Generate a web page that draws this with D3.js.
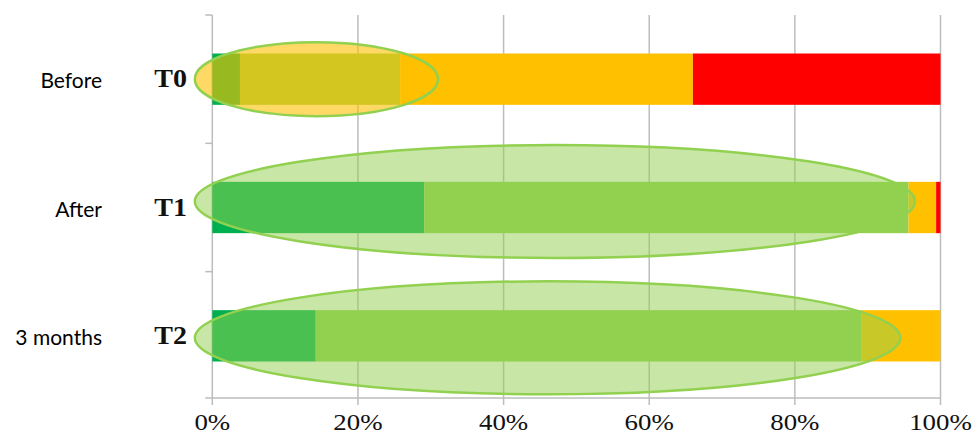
<!DOCTYPE html>
<html>
<head>
<meta charset="utf-8">
<script src="https://cdn.jsdelivr.net/npm/d3@7"></script>
<style>
  html, body { margin: 0; padding: 0; background: #fff; }
  svg { display: block; }
</style>
</head>
<body>
<svg id="chart" width="978" height="437"></svg>
<script>
// Time points and their plain-language names
const timepoints = ["T0", "T1", "T2"];
const phaseNames = ["Before", "After", "3 months"];

// Share of each response level (percent), one array per level
const levelDarkGreen  = [3.8, 29.1, 14.2];
const levelLightGreen = [22.0, 66.5, 74.9];
const levelYellow     = [40.2, 3.8, 10.9];
const levelRed        = [34.0, 0.6, 0.0];

const levelKeys   = ["darkGreen", "lightGreen", "yellow", "red"];
const levelColors = ["#00B050", "#92D050", "#FFC000", "#FF0000"];

// Highlight ovals: horizontal extent in percent, one entry per time point
const ovalStart = [-2.4, -2.4, -2.4];
const ovalEnd   = [31.0, 96.5, 94.5];
const ovalTint  = ["#FFC000", "#92D050", "#92D050"];

const xTicks = [0, 20, 40, 60, 80, 100];

const rows = timepoints.map((t, i) => ({
  t,
  darkGreen: levelDarkGreen[i],
  lightGreen: levelLightGreen[i],
  yellow: levelYellow[i],
  red: levelRed[i]
}));

const svg = d3.select("#chart");

const x = d3.scaleLinear().domain([0, 100]).range([212.3, 940.5]);
const y = d3.scaleBand().domain(timepoints).range([15, 400])
  .paddingInner(0.6).paddingOuter(0.3);
const axisY = 398;
const gridColor = "#BDBDBD";

// Vertical gridlines (including the 0% axis line)
svg.append("g")
  .selectAll("line")
  .data(xTicks)
  .join("line")
  .attr("x1", d => x(d)).attr("x2", d => x(d))
  .attr("y1", 15).attr("y2", axisY + 7)
  .attr("stroke", gridColor).attr("stroke-width", 1.5);

// Bottom axis line
svg.append("line")
  .attr("x1", x(0) - 7).attr("x2", x(100))
  .attr("y1", axisY).attr("y2", axisY)
  .attr("stroke", gridColor).attr("stroke-width", 1.5);

// Left-side category ticks at band boundaries
const bandEdges = timepoints.map((t, i) => 15 + i * y.step());
svg.append("g")
  .selectAll("line")
  .data(bandEdges)
  .join("line")
  .attr("x1", x(0) - 7).attr("x2", x(0))
  .attr("y1", d => d).attr("y2", d => d)
  .attr("stroke", gridColor).attr("stroke-width", 1.5);

// Stacked 100% bars
const stacked = d3.stack().keys(levelKeys)(rows);
const color = d3.scaleOrdinal().domain(levelKeys).range(levelColors);

svg.append("g")
  .selectAll("g")
  .data(stacked)
  .join("g")
  .attr("fill", d => color(d.key))
  .selectAll("rect")
  .data(d => d)
  .join("rect")
  .attr("x", d => x(d[0]))
  .attr("width", d => Math.max(0, x(d[1]) - x(d[0])))
  .attr("y", d => y(d.data.t))
  .attr("height", y.bandwidth());

// Highlight ovals drawn over the bars
const ovalHalfHeight = [37, 56.5, 56.5];
const ovalShift = [0, -6, 2];
svg.append("g")
  .selectAll("ellipse")
  .data(timepoints)
  .join("ellipse")
  .attr("cx", (d, i) => (x(ovalStart[i]) + x(ovalEnd[i])) / 2)
  .attr("rx", (d, i) => (x(ovalEnd[i]) - x(ovalStart[i])) / 2)
  .attr("cy", (d, i) => y(d) + y.bandwidth() / 2 + ovalShift[i])
  .attr("ry", (d, i) => ovalHalfHeight[i])
  .attr("fill", (d, i) => ovalTint[i])
  .attr("fill-opacity", (d, i) => i === 0 ? 0.6 : 0.5)
  .attr("stroke", "#92D050")
  .attr("stroke-width", 2.5);

// Time point labels (bold serif, slightly widened)
svg.append("g")
  .selectAll("text")
  .data(timepoints)
  .join("text")
  .attr("transform", d => `translate(187,${y(d) + y.bandwidth() / 2 + 8}) scale(1.12,1)`)
  .attr("text-anchor", "end")
  .attr("font-family", "'Liberation Serif', 'Times New Roman', serif")
  .attr("font-weight", "bold")
  .attr("font-size", 25)
  .attr("fill", "#111")
  .text(d => d);

// Phase names
svg.append("g")
  .selectAll("text")
  .data(timepoints)
  .join("text")
  .attr("x", 102)
  .attr("y", d => y(d) + y.bandwidth() / 2 + 9)
  .attr("text-anchor", "end")
  .attr("font-family", "Lato, 'Open Sans', sans-serif")
  .attr("font-size", 21)
  .attr("fill", "#000")
  .text((d, i) => phaseNames[i]);

// Percentage tick labels
svg.append("g")
  .selectAll("text")
  .data(xTicks)
  .join("text")
  .attr("transform", d => `translate(${x(d)},430) scale(1.12,1)`)
  .attr("text-anchor", "middle")
  .attr("font-family", "'Liberation Serif', 'Times New Roman', serif")
  .attr("font-size", 24)
  .attr("fill", "#111")
  .text(d => d + "%");
</script>
</body>
</html>
